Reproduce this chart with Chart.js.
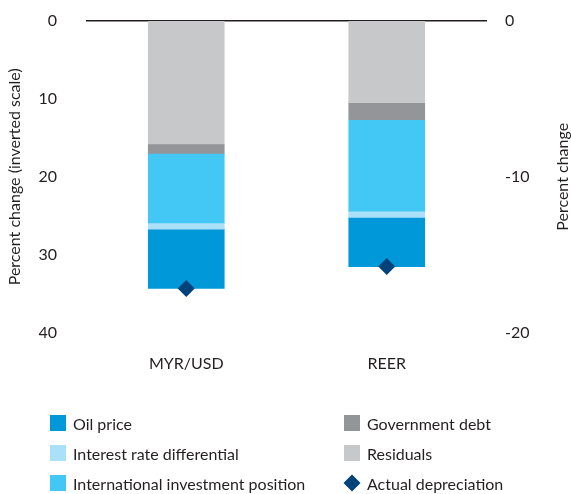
<!DOCTYPE html>
<html>
<head>
<meta charset="utf-8">
<script src="https://cdn.jsdelivr.net/npm/chart.js@4.4.0/dist/chart.umd.min.js"></script>
<style>
  html, body { margin: 0; padding: 0; background: #fff; }
  #wrap { position: relative; width: 571px; height: 494px; overflow: hidden; font-family: Lato, 'Open Sans', sans-serif; color: #231f20; }
  #chart-box { position: absolute; left: 0; top: -18px; width: 571px; height: 418px; }
  #legend { position: absolute; left: 0; top: 0; width: 571px; height: 494px; pointer-events: none; }
  .item { position: absolute; display: flex; align-items: center; font-size: 16px; height: 16px; }
  .swatch { width: 16px; height: 16px; margin-right: 7px; flex: none; }
  .diamond { width: 12px; height: 12px; margin: 0 9px 0 2px; transform: rotate(45deg); flex: none; }
</style>
</head>
<body>
<div id="wrap">
  <div id="chart-box"><canvas id="myChart"></canvas></div>
  <div id="legend"></div>
</div>
<script>
  // chart data (percent change, inverted scale)
  const categories = ['MYR/USD', 'REER'];
  const residuals = [15.8, 10.5];
  const governmentDebt = [1.2, 2.2];
  const investmentPosition = [8.9, 11.7];
  const interestRateDiff = [0.8, 0.8];
  const oilPrice = [7.6, 6.3];
  const actualDepreciation = [34.3, 31.5];

  const leftTicks = [0, 10, 20, 30, 40];
  const rightTicks = [0, -10, -20];

  const colors = {
    oil: '#0098d8',
    interest: '#abe0f9',
    iip: '#43c8f5',
    gov: '#939598',
    resid: '#c7c8ca',
    actual: '#00427a'
  };

  // stacking starts at 0 (top) -> residuals first
  const barSets = [
    { label: 'Residuals', data: residuals, color: colors.resid },
    { label: 'Government debt', data: governmentDebt, color: colors.gov },
    { label: 'International investment position', data: investmentPosition, color: colors.iip },
    { label: 'Interest rate differential', data: interestRateDiff, color: colors.interest },
    { label: 'Oil price', data: oilPrice, color: colors.oil }
  ];

  const datasets = barSets.map(s => ({
    type: 'bar',
    label: s.label,
    data: s.data,
    backgroundColor: s.color,
    borderWidth: 0,
    barThickness: 76,
    stack: 'parts',
    yAxisID: 'y'
  }));

  datasets.push({
    type: 'line',
    label: 'Actual depreciation',
    data: actualDepreciation,
    showLine: false,
    pointStyle: 'rectRot',
    pointRadius: 8.5,
    pointBackgroundColor: colors.actual,
    pointBorderWidth: 0,
    stack: 'actual',
    order: -1,
    yAxisID: 'y'
  });

  // axis titles, both read bottom-to-top
  const axisTitles = {
    id: 'axisTitles',
    afterDraw(chart) {
      const { ctx, chartArea } = chart;
      const midY = (chartArea.top + chartArea.bottom) / 2;
      ctx.save();
      ctx.fillStyle = '#231f20';
      ctx.font = '16px Lato, "Open Sans", sans-serif';
      ctx.textAlign = 'center';
      ctx.textBaseline = 'middle';
      [[15, 'Percent change (inverted scale)'], [563, 'Percent change']].forEach(([x, text]) => {
        ctx.save();
        ctx.translate(x, midY);
        ctx.rotate(-Math.PI / 2);
        ctx.fillText(text, 0, 0);
        ctx.restore();
      });
      ctx.restore();
    }
  };

  Chart.defaults.font.family = 'Lato, "Open Sans", sans-serif';
  Chart.defaults.font.size = 16;
  Chart.defaults.color = '#231f20';

  new Chart(document.getElementById('myChart'), {
    data: { labels: categories, datasets: datasets },
    options: {
      responsive: true,
      maintainAspectRatio: false,
      animation: false,
      layout: { padding: { top: 3, left: 0, right: 0, bottom: 0 } },
      plugins: {
        legend: { display: false },
        tooltip: { enabled: false }
      },
      scales: {
        x: {
          stacked: true,
          grid: { display: false },
          border: { display: false },
          ticks: { padding: 13 },
          afterFit: scale => { scale.height = 67; }
        },
        y: {
          stacked: true,
          reverse: true,
          min: leftTicks[0],
          max: leftTicks[leftTicks.length - 1],
          afterBuildTicks: scale => { scale.ticks = leftTicks.map(v => ({ value: v })); },
          ticks: { padding: 29 },
          grid: {
            drawTicks: false,
            color: c => c.tick && c.tick.value === 0 ? '#231f20' : 'rgba(0,0,0,0)',
            lineWidth: 1.5
          },
          border: { display: false },
          afterFit: scale => { scale.width = 86; }
        },
        y2: {
          position: 'right',
          min: rightTicks[rightTicks.length - 1],
          max: rightTicks[0],
          afterBuildTicks: scale => { scale.ticks = rightTicks.map(v => ({ value: v })); },
          ticks: { padding: 18 },
          grid: { display: false, drawTicks: false },
          border: { display: false },
          afterFit: scale => { scale.width = 84; }
        }
      }
    },
    plugins: [axisTitles]
  });

  // legend, two columns filled top to bottom
  const legendItems = [
    { label: 'Oil price', color: colors.oil },
    { label: 'Interest rate differential', color: colors.interest },
    { label: 'International investment position', color: colors.iip },
    { label: 'Government debt', color: colors.gov },
    { label: 'Residuals', color: colors.resid },
    { label: 'Actual depreciation', color: colors.actual, diamond: true }
  ];
  const legendEl = document.getElementById('legend');
  legendItems.forEach((it, i) => {
    const col = Math.floor(i / 3);
    const row = i % 3;
    const div = document.createElement('div');
    div.className = 'item';
    div.style.left = (col === 0 ? 50 : 344) + 'px';
    div.style.top = (415 + row * 30) + 'px';
    const mark = document.createElement('span');
    mark.className = it.diamond ? 'diamond' : 'swatch';
    mark.style.background = it.color;
    const txt = document.createElement('span');
    txt.textContent = it.label;
    div.appendChild(mark);
    div.appendChild(txt);
    legendEl.appendChild(div);
  });
</script>
</body>
</html>
